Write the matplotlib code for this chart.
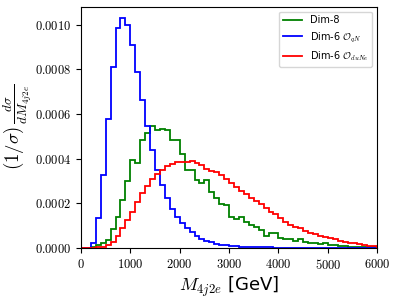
import numpy as np
import matplotlib
matplotlib.use("Agg")
import matplotlib.pyplot as plt
from matplotlib.lines import Line2D
from matplotlib.ticker import FuncFormatter

plt.rcParams['mathtext.fontset'] = 'cm'
plt.rcParams['font.family'] = ['DejaVu Sans']

bin_lo, bin_hi, bin_w = 0, 6000, 100

dim8 = [0, 0, 3e-6, 1.3e-5, 2.1e-5, 3.6e-5, 8.3e-5, 1.4e-4, 2.14e-4, 3.0e-4,
        3.93e-4, 3.81e-4, 4.85e-4, 5.15e-4, 5.45e-4, 5.27e-4, 5.33e-4, 5.3e-4, 4.82e-4, 4.82e-4,
        4.23e-4, 3.51e-4, 3.51e-4, 3.04e-4, 2.92e-4, 3.04e-4, 2.51e-4, 2.22e-4, 1.95e-4, 1.92e-4,
        1.37e-4, 1.31e-4, 1.4e-4, 1.16e-4, 1.04e-4, 9.5e-5, 8.0e-5, 5.5e-5, 6.5e-5, 6.6e-5,
        4.3e-5, 3.9e-5, 3.9e-5, 3.3e-5, 3.9e-5, 2.8e-5, 2.1e-5, 2.1e-5, 1.6e-5, 2.4e-5,
        1.3e-5, 1.3e-5, 9e-6, 9e-6, 6e-6, 6e-6, 3e-6, 3e-6, 3e-6, 3e-6]

dim6_qN = [0, 0, 2.4e-5, 1.32e-4, 3.26e-4, 5.77e-4, 8.09e-4, 9.84e-4, 1.03e-3, 9.98e-4,
           9.09e-4, 7.9e-4, 6.65e-4, 5.45e-4, 4.37e-4, 3.5e-4, 2.8e-4, 2.25e-4, 1.75e-4, 1.4e-4,
           1.1e-4, 8.8e-5, 7.0e-5, 5.5e-5, 4.2e-5, 3.3e-5, 2.5e-5, 1.9e-5, 1.5e-5, 1.2e-5,
           9e-6, 7e-6, 6e-6, 5e-6, 4e-6, 3e-6, 3e-6, 2e-6, 2e-6, 1e-6,
           1e-6, 1e-6, 1e-6, 1e-6, 0, 0, 0, 0, 0, 0,
           0, 0, 0, 0, 0, 0, 0, 0, 0, 0]

dim6_duNe = [0, 0, 0, 2e-6, 4e-6, 1.3e-5, 2.8e-5, 5.4e-5, 8.8e-5, 1.25e-4,
             1.62e-4, 2.07e-4, 2.47e-4, 2.77e-4, 3.11e-4, 3.33e-4, 3.51e-4, 3.66e-4, 3.78e-4, 3.83e-4,
             3.85e-4, 3.87e-4, 3.9e-4, 3.82e-4, 3.7e-4, 3.56e-4, 3.43e-4, 3.39e-4, 3.26e-4, 3.07e-4,
             2.92e-4, 2.74e-4, 2.56e-4, 2.41e-4, 2.26e-4, 2.11e-4, 1.96e-4, 1.77e-4, 1.62e-4, 1.5e-4,
             1.32e-4, 1.18e-4, 1.03e-4, 9.5e-5, 8.8e-5, 7.6e-5, 6.8e-5, 6.1e-5, 5.4e-5, 4.8e-5,
             4.3e-5, 3.9e-5, 3.3e-5, 2.8e-5, 2.4e-5, 2.1e-5, 1.6e-5, 1.3e-5, 1.0e-5, 9e-6]

labels = ['Dim-8', r'Dim-6 $\mathcal{O}_{qN}$', r'Dim-6 $\mathcal{O}_{duNe}$']
colors = ['green', 'blue', 'red']
x_ticks = [0, 1000, 2000, 3000, 4000, 5000, 6000]
y_ticks = [0.0, 0.0002, 0.0004, 0.0006, 0.0008, 0.0010]

edges = np.arange(bin_lo, bin_hi + bin_w, bin_w)

fig = plt.figure(figsize=(3.97, 3.02), dpi=100)
ax = fig.add_axes([0.204, 0.179, 0.746, 0.799])

series = [dim8, dim6_qN, dim6_duNe]
for vals, c in zip(series, colors):
    ax.stairs(vals, edges, color=c, linewidth=1.3)

ymax = max(max(s) for s in series)
ax.set_xlim(bin_lo, bin_hi)
ax.set_ylim(0, ymax * 1.05)
ax.set_xticks(x_ticks)
ax.set_yticks(y_ticks)
ax.xaxis.set_major_formatter(FuncFormatter(lambda v, p: r'$%d$' % v))
ax.yaxis.set_major_formatter(FuncFormatter(lambda v, p: r'$%.4f$' % v))
ax.tick_params(labelsize=9)

ax.set_xlabel(r'$M_{4j2e}$ [GeV]', fontsize=13, labelpad=2)
ax.set_ylabel(r'$(1/\sigma)\,\frac{d\sigma}{dM_{4j2e}}$', fontsize=13.5, labelpad=0.5)

handles = [Line2D([], [], color=c, linewidth=1.3) for c in colors]
ax.legend(handles, labels, loc='upper right', fontsize=7)

fig.savefig('out.png', dpi=100)
